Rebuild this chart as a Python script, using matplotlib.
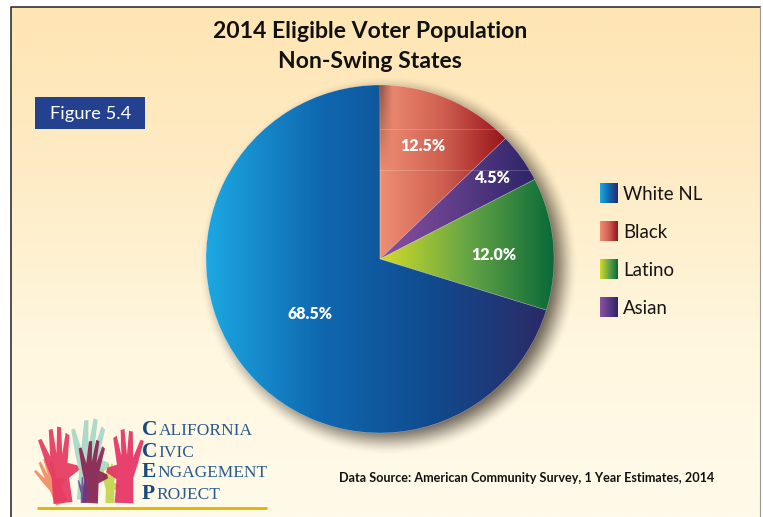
import numpy as np
import matplotlib
matplotlib.use("Agg")
import matplotlib.pyplot as plt
from matplotlib.colors import LinearSegmentedColormap
from matplotlib.patches import Polygon, Rectangle, Wedge

W, H = 763, 517

# data
groups = ["White NL", "Black", "Latino", "Asian"]
shares = [68.5, 12.5, 12.0, 4.5]
pie_order = ["Black", "Asian", "Latino", "White NL"]  # clockwise from the top
label_pos = {"White NL": (310, 314), "Black": (423, 146), "Latino": (494, 255), "Asian": (493, 178)}

gradients = {
    "White NL": ["#1ca8e2", "#0f68b0", "#114a8e", "#2b2a66"],
    "Black": ["#ef8f74", "#cf5f50", "#98131a"],
    "Latino": ["#d3dc28", "#66a545", "#0a6a39"],
    "Asian": ["#8c509f", "#5d3c88", "#2d2468"],
}


def Y(py):
    # picture rows run downward, the axes upward
    return H - py


def hgrad(ax, colors, x0, x1, y0, y1, clip=None, zorder=3):
    cmap = LinearSegmentedColormap.from_list("g", colors)
    im = ax.imshow(np.linspace(0, 1, 256).reshape(1, -1), cmap=cmap, extent=(x0, x1, y0, y1),
                   aspect="auto", zorder=zorder, interpolation="bilinear")
    if clip is not None:
        im.set_clip_path(clip)
    return im


def hand(ax, x, base, size, angle, color, xs=0.75, flip=False, alpha=0.9, zorder=6):
    # rough open hand: palm and forearm plus four fingers and a thumb
    pts = [(-.22, 0), (-.2, .45), (-.3, .72), (-.42, 1.12), (-.34, 1.14), (-.18, .82), (-.15, 1.28),
           (-.06, 1.29), (-.03, .86), (.05, 1.32), (.14, 1.3), (.1, .84), (.23, 1.2), (.31, 1.15),
           (.2, .68), (.42, .62), (.45, .54), (.2, .42), (.22, 0)]
    a = np.radians(angle)
    out = []
    for px, py in pts:
        px = -px * xs if flip else px * xs
        qx = px * np.cos(a) - py * np.sin(a)
        qy = px * np.sin(a) + py * np.cos(a)
        out.append((x + qx * size, Y(base) + qy * size))
    ax.add_patch(Polygon(out, closed=True, fc=color, ec="none", alpha=alpha, zorder=zorder))


fig = plt.figure(figsize=(W / 100, H / 100), dpi=100)
ax = fig.add_axes([0, 0, 1, 1])
plt.rcParams["font.family"] = ["Lato", "DejaVu Sans"]

# panel background
bg = LinearSegmentedColormap.from_list("bg", ["#fee5b3", "#feecc6", "#fff7df", "#fffaea"])
ax.imshow(np.linspace(0, 1, 256).reshape(-1, 1), cmap=bg, extent=(11, 760, 0, Y(7)), aspect="auto", zorder=0)
ax.plot([11, 11, 760], [0, Y(7), Y(7)], color="#333333", lw=1.2, zorder=1)
ax.plot([760, 760], [Y(7), 0], color="#999999", lw=0.8, zorder=1)

# pie
cx, cy, radius = 380, Y(259), 174
wedges, _ = ax.pie([shares[groups.index(g)] for g in pie_order], startangle=90, counterclock=False,
                   center=(cx, cy), radius=radius, frame=True, colors=["none"] * 4)

# soft shadow on the lower right
xx, yy = np.meshgrid(np.arange(150, 620), np.arange(40, 490))
d = np.hypot(xx - (cx + 8), yy - (cy - 7))
t = np.clip((radius + 16 - d) / 32, 0, 1)
shade = np.zeros(d.shape + (4,))
shade[..., :3] = (0.25, 0.21, 0.17)
shade[..., 3] = 0.8 * t * t * (3 - 2 * t)
ax.imshow(shade, extent=(150, 620, 40, 490), origin="lower", aspect="auto", zorder=2)

for name, w in zip(pie_order, wedges):
    ext = w.get_patch_transform().transform_path(w.get_path()).get_extents()
    hgrad(ax, gradients[name], ext.x0, min(ext.x1, cx + radius), ext.y0, ext.y1, clip=w)
    ax.add_patch(Wedge((cx, cy), radius, w.theta1, w.theta2, fc="none",
                       ec="#ffffff", lw=0.3, alpha=0.45, zorder=4))

# dark edge the big slice throws on the black slice, fading downward
edge = np.zeros((64, 64, 4))
edge[..., :3] = (0.25, 0.12, 0.1)
edge[..., 3] = np.outer(np.linspace(1, 0, 64), np.linspace(0.55, 0, 64))
im = ax.imshow(edge, extent=(cx, cx + 13, Y(175), Y(85)), aspect="auto", zorder=4)
im.set_clip_path(wedges[0])

# faint plot gridlines left over in the source
for py in (129, 170):
    ax.plot([cx, 530], [Y(py), Y(py)], color="white", lw=0.6, alpha=0.22, zorder=5)

for g, v in zip(groups, shares):
    x, y = label_pos[g]
    ax.text(x, Y(y), f"{v:.1f}%", color="white", fontsize=11.5, fontweight="heavy", ha="center", va="center", zorder=7)

# titles
ax.text(370, Y(31), "2014 Eligible Voter Population", fontsize=16.6, fontweight="bold", ha="center", va="center", color="#111111", zorder=7)
ax.text(370, Y(62), "Non-Swing States", fontsize=16.6, fontweight="bold", ha="center", va="center", color="#111111", zorder=7)

# figure tag
ax.add_patch(Rectangle((35, Y(129)), 110, 32, fc="#24418f", ec="none", zorder=7))
ax.text(91, Y(113.5), "Figure 5.4", color="white", fontsize=13.2, ha="center", va="center", zorder=8)

# legend
leg_y = [193, 231, 269, 307]
for g, py in zip(groups, leg_y):
    colors = [gradients[g][0], gradients[g][1], gradients[g][-1]]
    hgrad(ax, colors, 600, 618, Y(py + 10), Y(py - 10), zorder=7)
    ax.text(623, Y(py + 1), g, fontsize=13.4, color="#151515", ha="left", va="center", zorder=7)

# source
ax.text(527, Y(478), "Data Source: American Community Survey, 1 Year Estimates, 2014", fontsize=9.07,
        fontweight="bold", ha="center", va="center", color="#111111", zorder=7)

# logo hands
hand(ax, 62, 503, 36, 25, "#f08a62", xs=0.8)
hand(ax, 87, 500, 62, -3, "#9fd5c4", alpha=0.85)
hand(ax, 63, 503, 58, 6, "#e6345f")
hand(ax, 110, 503, 30, 0, "#c4d44a", xs=0.7)
hand(ax, 124, 503, 56, -2, "#e62c62", flip=True)
hand(ax, 90, 503, 48, -4, "#8a1f4f")
hand(ax, 84, 503, 20, 0, "#6a3a86", alpha=0.8)
ax.plot([37, 267], [Y(508), Y(508)], color="#e0b400", lw=2, solid_capstyle="butt", zorder=7)

ax.set_xlim(0, W)
ax.set_ylim(0, H)
ax.set_aspect("auto")
ax.axis("off")

# logo text, first letters larger for the small caps look
logo = [("C", "ALIFORNIA", 435), ("C", "IVIC", 457), ("E", "NGAGEMENT", 477), ("P", "ROJECT", 499)]
renderer = fig.canvas.get_renderer()
for first, rest, py in logo:
    t1 = ax.text(142, Y(py), first, fontsize=15.5, fontweight="bold", color="#174a80",
                 family="Liberation Serif", ha="left", va="baseline", zorder=7)
    x1 = t1.get_window_extent(renderer).x1
    ax.text(x1 + 1, Y(py), rest, fontsize=12.5, color="#2a5a8c", family="Liberation Serif",
            ha="left", va="baseline", zorder=7)

fig.savefig("out.png", dpi=100, facecolor="white")
